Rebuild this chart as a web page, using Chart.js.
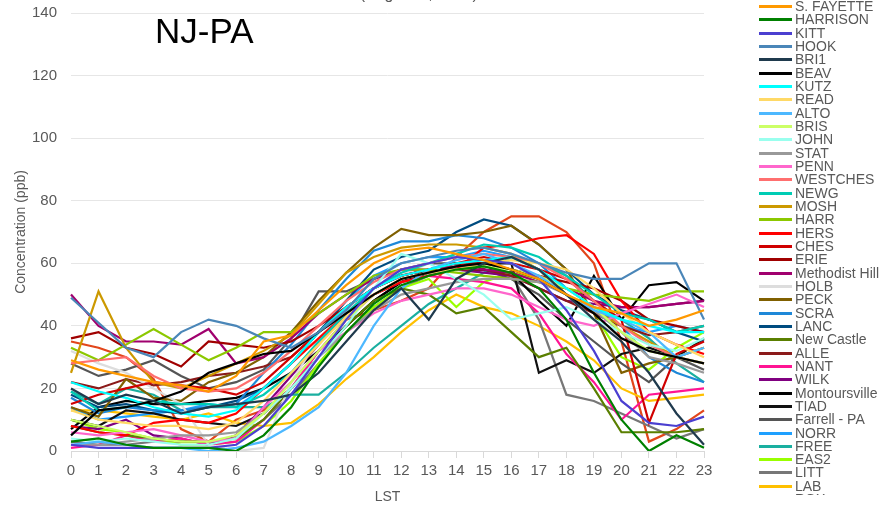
<!DOCTYPE html>
<html>
<head>
<meta charset="utf-8">
<script src="https://cdn.jsdelivr.net/npm/chart.js@4/dist/chart.umd.min.js"></script>
<style>
  html, body { margin: 0; padding: 0; background: #fff; }
  #wrap { position: relative; width: 889px; height: 508px; overflow: hidden; font-family: "Liberation Sans", Arial, sans-serif; }
  #chart { position: absolute; left: 0; top: 0; }
  #title { position: absolute; left: 393px; top: -14px; transform: translateX(-50%); font-size: 16px; line-height: 16px; color: #595959; white-space: nowrap; }
  #region { position: absolute; left: 155px; top: 13px; font-size: 35px; line-height: 35px; color: #000; }
  #legend { position: absolute; left: 759px; top: 0; width: 130px; height: 495px; overflow: hidden; }
  .row { height: 13.33px; line-height: 13.33px; font-size: 14px; color: #595959; white-space: nowrap; position: relative; }
  .row i { position: absolute; left: 0; top: 5px; width: 33px; height: 3px; }
  .row span { position: absolute; left: 36px; top: 0; }
</style>
</head>
<body>
<div id="wrap">
  <canvas id="chart" width="889" height="508"></canvas>
  <div id="title">Ozone (August 2, 2005)</div>
  <div id="region">NJ-PA</div>
  <div id="legend"></div>
</div>
<script>
// ── Dados: ozônio horário (ppb), 2 de agosto de 2005, estações NJ-PA
const hours = ['0','1','2','3','4','5','6','7','8','9','10','11','12','13','14','15','16','17','18','19','20','21','22','23'];
const yTicks = [0, 20, 40, 60, 80, 100, 120, 140];

const sFayette      = [29, 26, 24, 22, 21, 19, 24, 35, 37, 45, 53, 60, 64, 65, 63, 61, 58, 55, 50, 46, 44, 40, 42, 45];
const harrison      = [3, 4, 2, 1, 1, 1, 0, 5, 14, 27, 38, 47, 53, 56, 58, 59, 57, 52, 42, 25, 10, 0, 5, 1];
const kitt          = [2, 1, 1, 1, 1, 1, 2, 8, 18, 30, 42, 52, 58, 60, 62, 61, 60, 55, 45, 32, 16, 9, 8, 11];
const hook          = [49, 41, 33, 30, 38, 42, 40, 36, 33, 38, 45, 55, 60, 62, 64, 65, 63, 60, 57, 55, 55, 60, 60, 42];
const bri1          = [20, 15, 18, 16, 12, 14, 15, 16, 18, 25, 35, 45, 52, 42, 55, 60, 62, 58, 50, 42, 35, 25, 12, 2];
const beav          = [5, 13, 14, 16, 19, 25, 28, 31, 32, 38, 44, 50, 55, 57, 59, 60, 58, 55, 50, 44, 36, 32, 30, 28];
const kutz          = [22, 19, 17, 14, 12, 11, 13, 20, 28, 38, 46, 52, 56, 58, 60, 61, 62, 58, 52, 46, 42, 40, 38, 38];
const read          = [13, 10, 9, 8, 8, 7, 9, 16, 25, 34, 43, 50, 55, 57, 58, 60, 61, 60, 58, 52, 44, 38, 34, 30];
const alto          = [2, 3, 2, 1, 1, 0, 1, 3, 8, 14, 25, 40, 52, 58, 61, 63, 60, 56, 50, 45, 42, 38, 30, 33];
const bris          = [10, 8, 6, 4, 3, 3, 5, 12, 22, 32, 42, 50, 55, 57, 58, 59, 58, 56, 52, 46, 38, 32, 30, 28];
const john          = [4, 3, 4, 3, 2, 2, 4, 12, 20, 30, 40, 52, 63, 60, 55, 50, 42, 44, 46, 42, 38, 34, 32, 36];
const stat          = [2, 2, 3, 4, 5, 5, 6, 12, 20, 30, 38, 45, 50, 52, 54, 55, 55, 54, 50, 45, 38, 30, 28, 25];
const penn          = [6, 5, 6, 7, 5, 3, 4, 14, 22, 32, 38, 44, 48, 50, 52, 52, 50, 46, 42, 40, 44, 47, 50, 46];
const westches      = [28, 29, 30, 24, 20, 19, 20, 25, 32, 40, 48, 54, 58, 60, 62, 63, 62, 60, 55, 48, 40, 34, 30, 28];
const newg          = [19, 13, 14, 16, 15, 15, 14, 18, 25, 35, 44, 52, 57, 60, 63, 66, 65, 62, 56, 50, 44, 42, 38, 40];
const mosh          = [25, 51, 33, 22, 20, 24, 28, 32, 37, 47, 57, 62, 65, 66, 66, 65, 63, 58, 50, 45, 40, 35, 30, 33];
const harr          = [33, 29, 34, 39, 34, 29, 33, 38, 38, 44, 50, 56, 58, 58, 57, 56, 55, 54, 52, 50, 49, 48, 51, 51];
const hers          = [8, 6, 5, 9, 10, 9, 12, 20, 28, 36, 44, 50, 54, 56, 58, 65, 66, 68, 69, 63, 48, 38, 34, 31];
const ches          = [15, 18, 20, 22, 21, 20, 18, 22, 30, 38, 46, 52, 56, 58, 60, 62, 60, 58, 55, 48, 42, 9, 31, 35];
const erie          = [36, 38, 33, 31, 27, 35, 34, 33, 35, 40, 46, 52, 56, 58, 60, 60, 58, 56, 54, 52, 48, 42, 40, 38];
const methodistHill = [50, 40, 35, 35, 34, 39, 28, 30, 36, 44, 50, 55, 58, 58, 59, 58, 57, 54, 52, 48, 46, 46, 47, 48];
const holb          = [32, 28, 25, 20, 15, 2, 0, 1, 22, 36, 45, 52, 56, 60, 62, 62, 60, 55, 50, 42, 36, 32, 30, 28];
const peck          = [14, 11, 23, 17, 16, 22, 25, 30, 38, 48, 57, 65, 71, 69, 69, 70, 72, 66, 58, 44, 25, 28, 30, 33];
const scra          = [17, 12, 14, 13, 13, 14, 15, 25, 34, 45, 55, 64, 67, 67, 69, 68, 65, 60, 52, 46, 40, 30, 25, 22];
const lanc          = [18, 14, 15, 13, 12, 14, 16, 20, 28, 38, 48, 58, 62, 64, 70, 74, 72, 66, 58, 50, 45, 42, 38, 35];
const newCastle     = [8, 6, 5, 4, 3, 3, 4, 10, 20, 30, 40, 48, 52, 50, 44, 46, 38, 30, 33, 20, 6, 6, 6, 7];
const alle          = [22, 20, 23, 21, 22, 24, 25, 27, 30, 38, 46, 52, 56, 58, 58, 58, 56, 52, 48, 44, 40, 37, 38, 40];
const nant          = [1, 2, 5, 3, 4, 2, 3, 10, 20, 32, 42, 50, 54, 56, 55, 54, 52, 44, 31, 22, 10, 18, 19, 20];
const wilk          = [8, 7, 10, 5, 4, 2, 5, 14, 24, 34, 44, 52, 56, 58, 58, 57, 56, 52, 48, 47, 46, 46, 47, 48];
const montoursville = [7, 14, 16, 15, 15, 16, 17, 20, 25, 32, 40, 48, 54, 57, 58, 58, 57, 48, 40, 56, 42, 53, 54, 48];
const tiad          = [10, 8, 13, 12, 10, 9, 8, 12, 20, 30, 40, 48, 54, 58, 60, 60, 60, 25, 29, 25, 31, 33, 30, 36];
const farrell       = [28, 24, 26, 29, 24, 20, 22, 26, 36, 51, 51, 55, 58, 60, 60, 58, 55, 50, 42, 35, 28, 22, 30, 26];
const norr          = [14, 10, 11, 12, 13, 15, 14, 20, 28, 38, 48, 56, 60, 62, 62, 64, 62, 58, 50, 44, 40, 38, 40, 38];
const free          = [19, 15, 20, 18, 13, 14, 14, 14, 18, 18, 25, 33, 40, 47, 52, 57, 62, 60, 56, 48, 42, 36, 28, 22];
const eas2          = [10, 7, 6, 4, 2, 2, 3, 8, 16, 28, 38, 46, 52, 55, 46, 54, 57, 55, 50, 44, 30, 26, 33, 38];
const litt          = [3, 2, 2, 3, 3, 3, 4, 10, 18, 28, 38, 46, 52, 56, 58, 58, 56, 42, 18, 16, 12, 8, 4, 7];
const lab           = [13, 13, 12, 11, 10, 12, 9, 8, 9, 15, 23, 30, 38, 45, 50, 46, 44, 40, 35, 29, 20, 16, 17, 18];
const rox           = [35, 33, 30, 23, 7, 3, 10, 13, 20, 32, 42, 45, 48, 52, 62, 70, 75, 75, 70, 60, 35, 3, 7, 13];

const stations = ['S. FAYETTE','HARRISON','KITT','HOOK','BRI1','BEAV','KUTZ','READ','ALTO','BRIS','JOHN','STAT','PENN',
  'WESTCHES','NEWG','MOSH','HARR','HERS','CHES','ERIE','Methodist Hill','HOLB','PECK','SCRA','LANC','New Castle','ALLE',
  'NANT','WILK','Montoursville','TIAD','Farrell - PA','NORR','FREE','EAS2','LITT','LAB','ROX'];
const series = [sFayette, harrison, kitt, hook, bri1, beav, kutz, read, alto, bris, john, stat, penn,
  westches, newg, mosh, harr, hers, ches, erie, methodistHill, holb, peck, scra, lanc, newCastle, alle,
  nant, wilk, montoursville, tiad, farrell, norr, free, eas2, litt, lab, rox];
const colors = ['#ff9900','#008000','#4b3fd0','#4a86b8','#1f3a4d','#000000','#00ffff','#ffd966','#4db8ff','#ccff66','#99ffee','#999999','#ff66cc',
  '#ff6f6f','#00ccb4','#cc9900','#8cc800','#ff0000','#d00000','#a00000','#a0006e','#dddddd','#806000','#1e88d8','#004c80','#5a7f00','#8b1a1a',
  '#ff1493','#800080','#000000','#111111','#555555','#1ea0ff','#1aafa0','#99ff00','#777777','#ffc000','#e2461b'];

// ── Legenda HTML (a do Chart.js quebraria em colunas)
const leg = document.getElementById('legend');
stations.forEach((s, i) => {
  const r = document.createElement('div');
  r.className = 'row';
  r.innerHTML = `<i style="background:${colors[i]}"></i><span>${s}</span>`;
  leg.appendChild(r);
});

const datasets = series.map((d, i) => ({
  label: stations[i], data: d, borderColor: colors[i], backgroundColor: colors[i],
  borderWidth: 2.2, pointRadius: 0, tension: 0, fill: false
}));

new Chart(document.getElementById('chart'), {
  type: 'line',
  data: { labels: hours, datasets },
  options: {
    responsive: false, animation: false,
    layout: { padding: { left: 11, right: 185, top: 13, bottom: 0 } },
    plugins: { legend: { display: false }, tooltip: { enabled: false } },
    scales: {
      x: {
        grid: { drawOnChartArea: false, drawTicks: true, tickLength: 7, color: '#d9d9d9' },
        border: { display: true, color: '#d9d9d9' },
        ticks: { color: '#595959', font: { size: 15, family: 'Liberation Sans' }, padding: 4, maxRotation: 0, autoSkip: false },
        title: { display: true, text: 'LST', color: '#595959', font: { size: 14, family: 'Liberation Sans' }, padding: { top: 2, bottom: 2 } },
        afterFit: s => { s.height = 57; }
      },
      y: {
        min: 0, max: 140,
        afterBuildTicks: s => { s.ticks = yTicks.map(v => ({ value: v })); },
        grid: { color: '#e6e6e6', drawTicks: false },
        border: { display: false },
        ticks: { color: '#595959', font: { size: 15, family: 'Liberation Sans' }, padding: 14 },
        title: { display: true, text: 'Concentration (ppb)', color: '#595959', font: { size: 14, family: 'Liberation Sans' }, padding: 2 },
        afterFit: s => { s.width = 60; s.paddingTop = 0; s.paddingBottom = 0; }
      }
    }
  }
});
</script>
</body>
</html>
